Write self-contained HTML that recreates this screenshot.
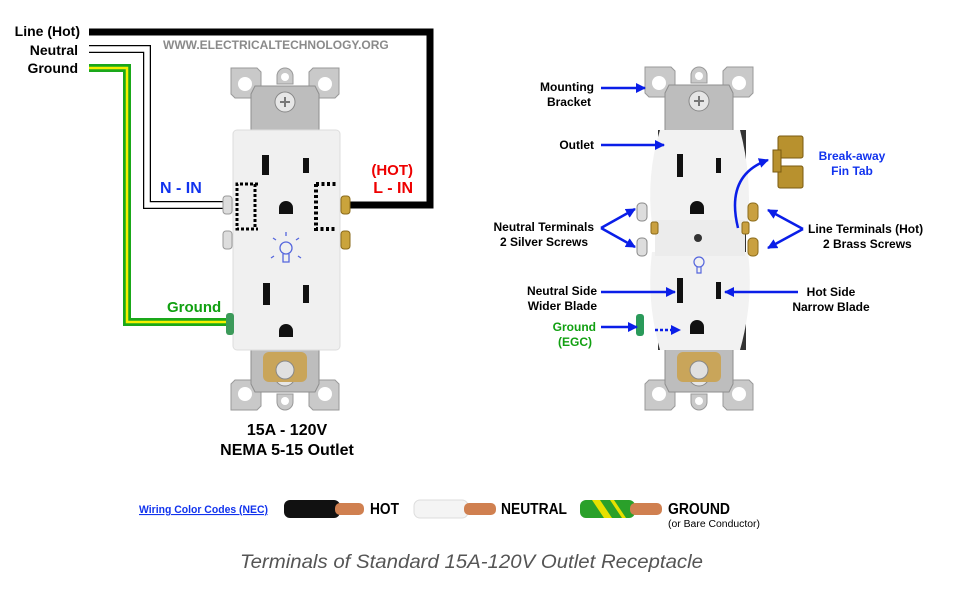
<!DOCTYPE html>
<html><head><meta charset="utf-8"><style>
body{margin:0;background:#fff}
svg{display:block}
text{font-family:"Liberation Sans",sans-serif}
.b{font-weight:bold}
</style></head><body>
<svg width="980" height="609" viewBox="0 0 980 609" xmlns="http://www.w3.org/2000/svg">
<defs>
<g id="brk">
 <path d="M-54,-30 h26 l4,4 v20 h-4 l0,6 h-22 l-4,-4 z" fill="#c9c9c9" stroke="#999" stroke-width="1"/>
 <path d="M54,-30 h-26 l-4,4 v20 h4 l0,6 h22 l4,-4 z" fill="#c9c9c9" stroke="#999" stroke-width="1"/>
 <circle cx="-40" cy="-14" r="7" fill="#fff"/>
 <circle cx="40" cy="-14" r="7" fill="#fff"/>
 <path d="M-8,-22 a8,8 0 0 1 16,0 v8 h-16 z" fill="#c9c9c9" stroke="#999"/>
 <circle cx="0" cy="-21" r="4" fill="#fff"/>
 <path d="M-30,-12 h60 l4,8 v40 h-68 v-40 z" fill="#bdbdbd" stroke="#8e8e8e"/>
 <circle cx="0" cy="4" r="10" fill="#e6e6e6" stroke="#888"/>
 <path d="M-5,4 h10 M0,-1 v10" stroke="#777" stroke-width="2"/>
</g>
<marker id="ar" viewBox="0 0 10 10" refX="9" refY="5" markerWidth="4" markerHeight="4" orient="auto"><path d="M0,0 L10,5 L0,10 z" fill="#0a1ee8"/></marker>
</defs>

<!-- LEFT wires -->
<text x="80" y="36" text-anchor="end" class="b" font-size="14">Line (Hot)</text>
<text x="78" y="55" text-anchor="end" class="b" font-size="14">Neutral</text>
<text x="78" y="73" text-anchor="end" class="b" font-size="14">Ground</text>
<text x="163" y="49" class="b" font-size="12" fill="#8a8a8a">WWW.ELECTRICALTECHNOLOGY.ORG</text>
<polyline points="89,32 430,32 430,205 350,205" fill="none" stroke="#000" stroke-width="7"/>
<polyline points="89,49 147,49 147,205 226,205" fill="none" stroke="#000" stroke-width="8"/>
<polyline points="89,49 147,49 147,205 226,205" fill="none" stroke="#fff" stroke-width="5.5"/>
<polyline points="89,68 127,68 127,322 228,322" fill="none" stroke="#1aa81a" stroke-width="8"/>
<polyline points="89,68 127,68 127,322 228,322" fill="none" stroke="#f5f000" stroke-width="2.5"/>

<!-- LEFT outlet -->
<use href="#brk" transform="translate(285,98)"/>
<use href="#brk" transform="translate(285,380) scale(1,-1)"/>
<rect x="263" y="352" width="44" height="30" rx="6" fill="#c9a55a"/>
<circle cx="285" cy="370" r="9" fill="#e0e0e0" stroke="#888"/>
<rect x="233" y="130" width="107" height="220" rx="4" fill="#f0f0f0" stroke="#ddd"/>
<rect x="262" y="155" width="7" height="20" fill="#111"/>
<rect x="303" y="158" width="6" height="15" fill="#111"/>
<path d="M279,214 v-6 a7,7 0 0 1 14,0 v6 z" fill="#111"/>
<rect x="263" y="283" width="7" height="22" fill="#111"/>
<rect x="303" y="285" width="6" height="18" fill="#111"/>
<path d="M279,337 v-6 a7,7 0 0 1 14,0 v6 z" fill="#111"/>
<g fill="#ddd" stroke="#999"><rect x="223" y="196" width="9" height="18" rx="3"/><rect x="223" y="231" width="9" height="18" rx="3"/></g>
<g fill="#caa43c" stroke="#8a6a1a"><rect x="341" y="196" width="9" height="18" rx="3"/><rect x="341" y="231" width="9" height="18" rx="3"/></g>
<rect x="226" y="313" width="8" height="22" rx="3" fill="#3c9a5a"/>
<path d="M258,184 H237 V229 H258 M255,184 V229" fill="none" stroke="#000" stroke-width="3" stroke-dasharray="3,2"/>
<path d="M316,184 H336 M316,184 V229 H336" fill="none" stroke="#000" stroke-width="4" stroke-dasharray="3,2.5"/>
<g stroke="#5566dd" fill="none" stroke-width="1.3"><circle cx="286" cy="248" r="6"/><path d="M283,254 v8 h6 v-8 M276,240 l-3,-2 M296,240 l3,-2 M286,236 v-4 M274,256 l-3,2 M298,256 l3,2"/></g>
<text x="160" y="193" class="b" font-size="16" fill="#1133ee">N - IN</text>
<text x="413" y="175" text-anchor="end" class="b" font-size="15" fill="#ee0000">(HOT)</text>
<text x="413" y="193" text-anchor="end" class="b" font-size="16" fill="#ee0000">L - IN</text>
<text x="167" y="312" class="b" font-size="15" fill="#11a011">Ground</text>
<text x="287" y="435" text-anchor="middle" class="b" font-size="16">15A - 120V</text>
<text x="287" y="455" text-anchor="middle" class="b" font-size="16">NEMA 5-15 Outlet</text>

<!-- RIGHT outlet -->
<use href="#brk" transform="translate(699,97)"/>
<use href="#brk" transform="translate(699,380) scale(1,-1)"/>
<rect x="677" y="352" width="44" height="30" rx="6" fill="#c9a55a"/>
<circle cx="699" cy="370" r="9" fill="#e0e0e0" stroke="#888"/>
<rect x="658" y="130" width="88" height="220" fill="#333"/>
<path d="M660,130 H740 Q752,175 748,225 H652 Q646,175 660,130 z" fill="#f2f2f2"/>
<path d="M652,252 H748 Q754,300 740,350 H660 Q646,300 652,252 z" fill="#f2f2f2"/>
<rect x="655" y="220" width="90" height="36" fill="#ececec"/>
<rect x="677" y="154" width="6" height="23" fill="#111"/>
<rect x="716" y="158" width="5" height="15" fill="#111"/>
<path d="M690,214 v-6 a7,7 0 0 1 14,0 v6 z" fill="#111"/>
<circle cx="698" cy="238" r="4" fill="#333"/>
<rect x="677" y="278" width="6" height="25" fill="#111"/>
<rect x="716" y="282" width="5" height="17" fill="#111"/>
<path d="M690,334 v-7 a7,7 0 0 1 14,0 v7 z" fill="#111"/>
<g fill="#ddd" stroke="#888"><rect x="637" y="203" width="10" height="18" rx="4"/><rect x="637" y="238" width="10" height="18" rx="4"/></g>
<g fill="#c9a040" stroke="#8a6a1a"><rect x="748" y="203" width="10" height="18" rx="4"/><rect x="748" y="238" width="10" height="18" rx="4"/><rect x="651" y="222" width="7" height="12" rx="2"/><rect x="742" y="222" width="7" height="12" rx="2"/></g>
<rect x="636" y="314" width="8" height="22" rx="3" fill="#2a9a5a"/>
<g fill="#b8912e" stroke="#7a5a10"><rect x="778" y="136" width="25" height="22" rx="2"/><rect x="778" y="166" width="25" height="22" rx="2"/><rect x="773" y="150" width="8" height="22"/></g>
<g stroke="#5566dd" fill="none" stroke-width="1.2"><circle cx="699" cy="262" r="5"/><path d="M697,267 v6 h4 v-6"/></g>

<g stroke="#0a1ee8" stroke-width="2.5" fill="none" marker-end="url(#ar)">
<line x1="601" y1="88" x2="645" y2="88"/>
<line x1="601" y1="145" x2="664" y2="145"/>
<line x1="601" y1="228" x2="635" y2="209"/>
<line x1="601" y1="228" x2="635" y2="247"/>
<line x1="803" y1="229" x2="768" y2="210"/>
<line x1="803" y1="229" x2="768" y2="248"/>
<path d="M738,228 Q725,175 768,160"/>
<line x1="601" y1="292" x2="675" y2="292"/>
<line x1="798" y1="292" x2="725" y2="292"/>
<line x1="601" y1="327" x2="637" y2="327"/>
<line x1="655" y1="330" x2="680" y2="330" stroke-dasharray="3,2"/>
</g>
<g class="b" font-size="12" font-weight="bold">
<text x="594" y="91" text-anchor="end">Mounting</text>
<text x="591" y="106" text-anchor="end">Bracket</text>
<text x="594" y="149" text-anchor="end">Outlet</text>
<text x="594" y="231" text-anchor="end">Neutral Terminals</text>
<text x="588" y="246" text-anchor="end">2 Silver Screws</text>
<text x="597" y="295" text-anchor="end">Neutral Side</text>
<text x="597" y="310" text-anchor="end">Wider Blade</text>
<text x="596" y="331" text-anchor="end" fill="#11a011">Ground</text>
<text x="592" y="346" text-anchor="end" fill="#11a011">(EGC)</text>
<text x="808" y="233">Line Terminals (Hot)</text>
<text x="823" y="248">2 Brass Screws</text>
<text x="831" y="296" text-anchor="middle">Hot Side</text>
<text x="831" y="311" text-anchor="middle">Narrow Blade</text>
<text x="852" y="160" text-anchor="middle" fill="#1133ee">Break-away</text>
<text x="852" y="175" text-anchor="middle" fill="#1133ee">Fin Tab</text>
</g>

<!-- legend -->
<text x="139" y="513" font-size="11" font-weight="bold" fill="#1133ee" text-decoration="underline" textLength="129" lengthAdjust="spacingAndGlyphs">Wiring Color Codes (NEC)</text>
<rect x="284" y="500" width="56" height="18" rx="6" fill="#111"/>
<rect x="335" y="503" width="29" height="12" rx="5" fill="#d08050"/>
<text x="370" y="514" class="b" font-size="16" textLength="29" lengthAdjust="spacingAndGlyphs">HOT</text>
<rect x="414" y="500" width="54" height="18" rx="6" fill="#f4f4f4" stroke="#ddd"/>
<rect x="464" y="503" width="32" height="12" rx="5" fill="#d08050"/>
<text x="501" y="514" class="b" font-size="16" textLength="66" lengthAdjust="spacingAndGlyphs">NEUTRAL</text>
<rect x="580" y="500" width="55" height="18" rx="6" fill="#2aa02a"/>
<path d="M592,500 l12,18 h8 l-12,-18 z M610,500 l12,18 h4 l-12,-18z" fill="#e8e000"/>
<rect x="630" y="503" width="32" height="12" rx="5" fill="#d08050"/>
<text x="668" y="514" class="b" font-size="16" textLength="62" lengthAdjust="spacingAndGlyphs">GROUND</text>
<text x="668" y="527" font-size="10" textLength="92" lengthAdjust="spacingAndGlyphs">(or Bare Conductor)</text>
<text x="240" y="568" font-size="19" font-style="italic" fill="#555" textLength="463" lengthAdjust="spacingAndGlyphs">Terminals of Standard 15A-120V Outlet Receptacle</text>
</svg>
</body></html>
